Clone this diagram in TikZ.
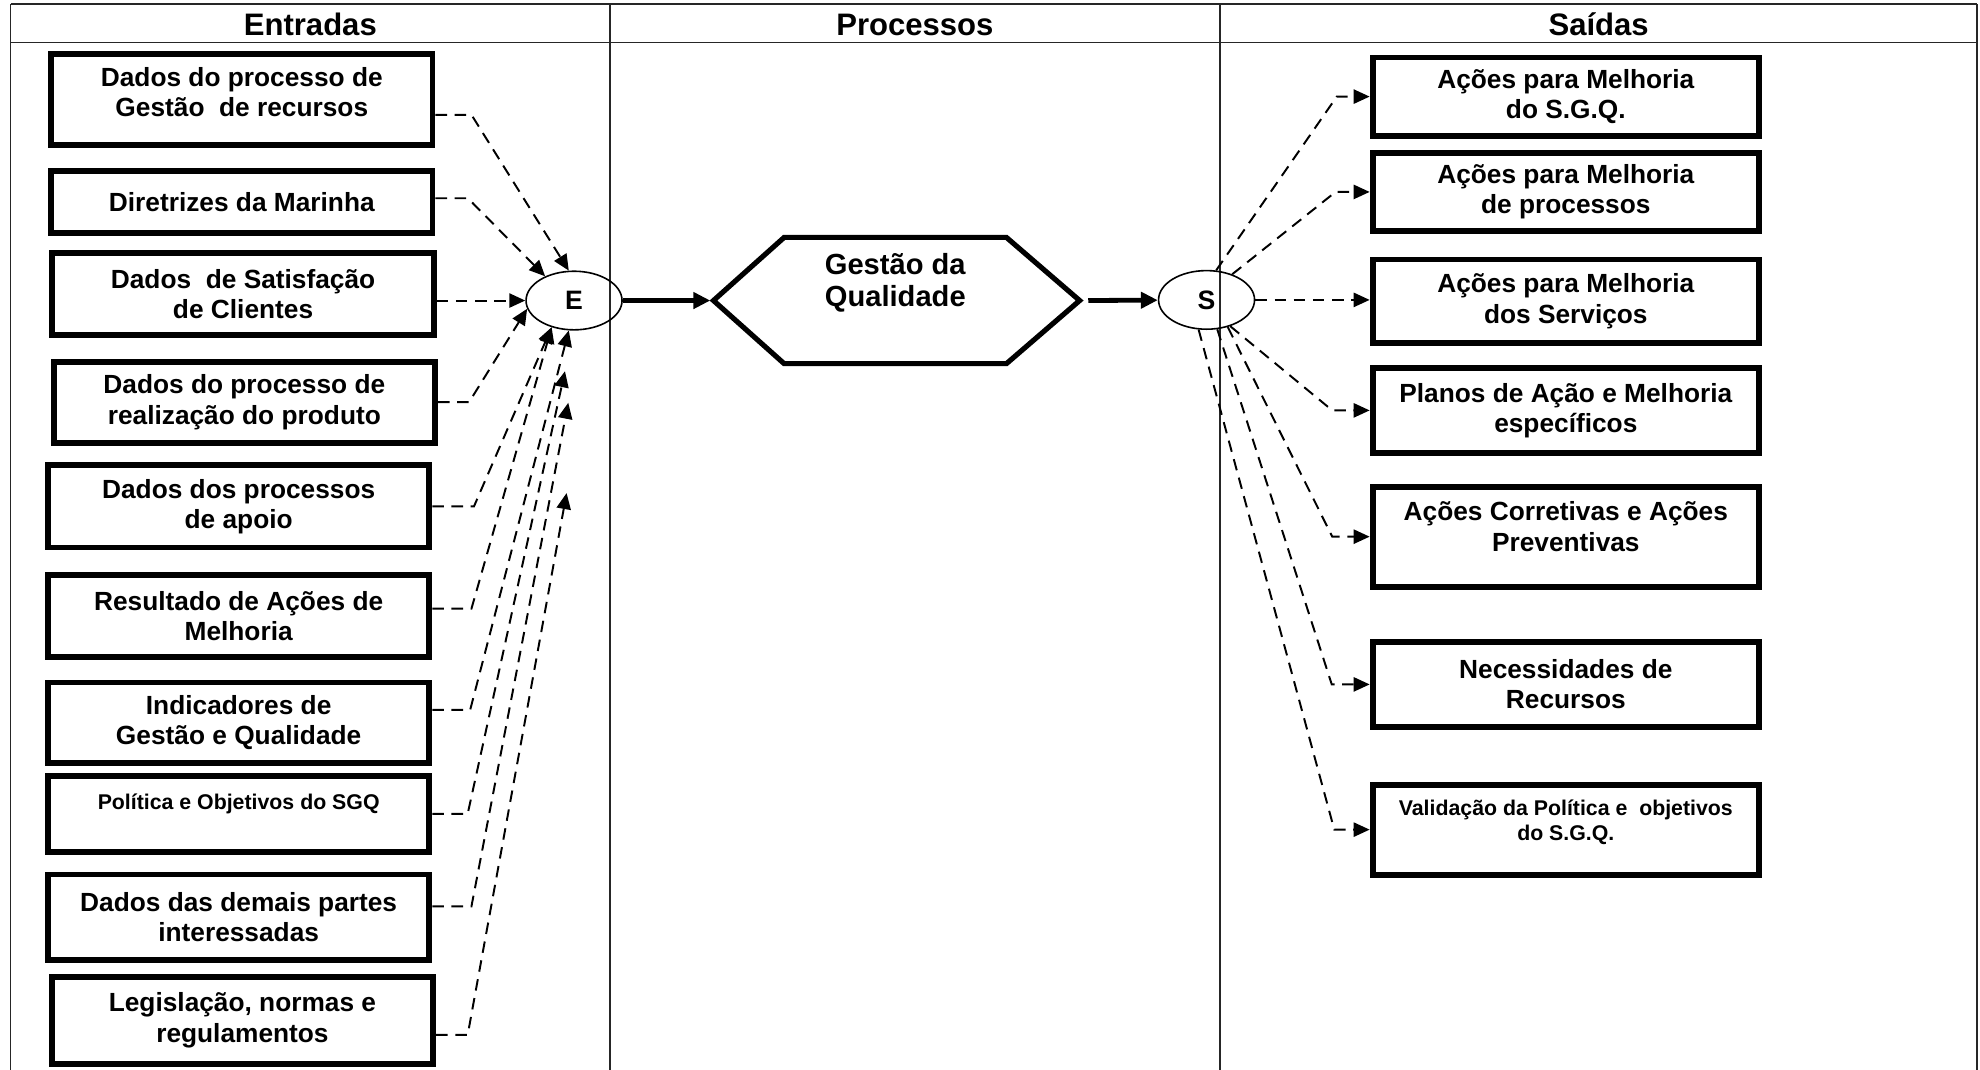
\documentclass[tikz,border=0pt]{standalone}
\usepackage{fontspec}
\setmainfont{Liberation Sans}
\usetikzlibrary{arrows.meta, shapes.geometric, positioning}

\begin{document}
\begin{tikzpicture}[x=0.025cm, y=-0.025cm,
    tabline/.style={line width=0.8pt, black!85},
    head/.style={font=\fontsize{17.5}{20}\selectfont\bfseries},
    inbox/.style={draw, line width=3.3pt, inner sep=0pt, minimum width=7.55cm, align=center,
        font=\fontsize{14.8}{17}\selectfont\bfseries},
    outbox/.style={inbox, minimum width=7.65cm},
    smalltext/.style={font=\fontsize{12}{14}\selectfont\bfseries},
    hub/.style={draw, ellipse, line width=0.9pt, minimum width=1.9cm, minimum height=1.16cm,
        inner sep=0pt, font=\fontsize{15}{18}\selectfont\bfseries},
    feed/.style={line width=1.1pt, dash pattern=on 6.5pt off 4.3pt, -{Triangle[length=9pt,width=8pt]}},
    flow/.style={line width=2.7pt, -{Triangle[length=9.5pt,width=9pt]}}
]
        \useasboundingbox (0,0) rectangle (1568,847);

        % Table
        \draw[tabline] (8.5,3.2) -- (1565.6,3.2);
        \draw[tabline] (8.5,33.5) -- (1565.6,33.5);
        \draw[tabline] (8.5,3.2) -- (8.5,847);
        \draw[tabline] (483,3.2) -- (483,847);
        \draw[tabline] (966,3.2) -- (966,847);
        \draw[tabline] (1565.6,3.2) -- (1565.6,847);

        \node[head] (hEnt) at (245.75,19.5) {Entradas};
        \node[head] (hProc) at (724.5,19.5) {Processos};
        \node[head] (hSai) at (1266,19.5) {Saídas};

        % Inputs
        \node[inbox, minimum height=1.8cm] (gr) at (191.5,78.5) {Dados do processo de\\Gestão~ de recursos\rule[-2.75mm]{0pt}{0pt}};
        \node[inbox, minimum height=1.23cm] (mar) at (191.5,160) {Diretrizes da Marinha};
        \node[inbox, minimum height=1.63cm] (sat) at (192.5,233) {Dados~ de Satisfação\\de Clientes};
        \node[inbox, minimum height=1.6cm] (real) at (193.5,318.5) {Dados do processo de\\realização do produto};
        \node[inbox, minimum height=1.63cm] (apo) at (189,401) {Dados dos processos\\de apoio};
        \node[inbox, minimum height=1.63cm] (res) at (189,488) {Resultado de Ações de\\Melhoria};
        \node[inbox, minimum height=1.6cm] (ind) at (189,572.5) {Indicadores de\\Gestão e Qualidade};
        \node[inbox, smalltext, minimum height=1.5cm] (pol) at (189,644.5) {Política e Objetivos do SGQ\\~};
        \node[inbox, minimum height=1.7cm] (par) at (189,726.5) {Dados das demais partes\\interessadas};
        \node[inbox, minimum height=1.73cm] (leg) at (192,808) {Legislação, normas e\\regulamentos};

        % Process
        \node[hub] (E) at (454.6,238) {E};
        \node[hub] (S) at (955.5,237.5) {S};

        \draw[line width=2.9pt] (565,238) -- (621,188) -- (797,188) -- (855,238) -- (797,288) -- (621,288) -- cycle;
        \node[align=center, font=\fontsize{16.4}{18.5}\selectfont\bfseries] (gq) at (709,224) {Gestão da\\Qualidade};
        \coordinate (gqW) at (562.5,238);
        \coordinate (gqE) at (857,238);

        \draw[flow] (E) -- (gqW);
        \draw[flow, shorten <=1.2mm] (gqE) -- (S);

        % Outputs
        \node[outbox, minimum height=1.55cm] (sgq) at (1240,76.5) {Ações para Melhoria\\do S.G.Q.};
        \node[outbox, minimum height=1.53cm] (proc) at (1240,152) {Ações para Melhoria\\de processos};
        \node[outbox, minimum height=1.65cm] (serv) at (1240,238.5) {Ações para Melhoria\\dos Serviços};
        \node[outbox, minimum height=1.68cm] (plan) at (1240,325) {Planos de Ação e Melhoria\\específicos};
        \node[outbox, minimum height=1.98cm] (corr) at (1240,425) {Ações Corretivas e Ações\\Preventivas\rule[-4mm]{0pt}{0pt}};
        \node[outbox, minimum height=1.68cm] (nec) at (1240,542) {Necessidades de\\Recursos};
        \node[outbox, smalltext, minimum height=1.78cm] (val) at (1240,657) {Validação da Política e~ objetivos\\do S.G.Q.\rule[-3.7mm]{0pt}{0pt}};

        % Loose arrow tips below E
        \coordinate (tipA) at (447.4,294);
        \coordinate (tipB) at (450,319);
        \coordinate (tipC) at (448.7,390.5);

        % Inputs to E
        \draw[feed] ([yshift=-3.1mm]gr.east) -- ++(28.5,0) -- (E.100);
        \draw[feed] ([yshift=0.75mm]mar.east) -- ++(25.7,0) -- (E.140);
        \draw[feed] (sat.east |- E.west) -- (E.west);
        \draw[feed] (real.east) -- ++(24.6,0) -- (E.190);
        \draw[feed] (apo.east) -- ++(33,0) -- (E.230);
        \draw[feed] ([yshift=1.5mm]res.east) -- ++(31,0) -- (E.230);
        \draw[feed] ([yshift=2.6mm]ind.east) -- ++(30,0) -- (E.-100);
        \draw[feed] (pol.east) -- ++(28,0) -- (tipA);
        \draw[feed] ([yshift=2.2mm]par.east) -- ++(31,0) -- (tipB);
        \draw[feed] ([yshift=-2.9mm]leg.east) -- ++(25,0) -- (tipC);

        % S to outputs
        \draw[feed] (S.72) -- ([xshift=-6.5mm]sgq.west) -- (sgq.west);
        \draw[feed] (S.45) -- ([xshift=-6.75mm]proc.west) -- (proc.west);
        \draw[feed] (S.east) -- (S.east -| serv.west);
        \draw[feed] (S.-48) -- ([xshift=-7.4mm]plan.west) -- (plan.west);
        \draw[feed] (S.-52) -- ([xshift=-7.4mm]corr.west) -- (corr.west);
        \draw[feed] (S.-70) -- ([xshift=-7.5mm]nec.west) -- (nec.west);
        \draw[feed] (S.-105) -- ([xshift=-7mm]val.west) -- (val.west);

\end{tikzpicture}
\end{document}
